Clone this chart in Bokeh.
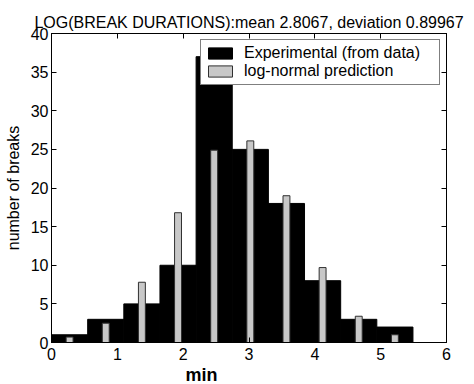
from bokeh.plotting import figure
from bokeh.models import LinearAxis, FixedTicker, Range1d, Title
from bokeh.embed import file_html
from bokeh.resources import INLINE

# ---- data ----
bin_centers = [0.275, 0.824, 1.373, 1.922, 2.471, 3.020, 3.569, 4.118, 4.667, 5.216]
bin_width = 0.549
experimental = [1, 3, 5, 10, 37, 25, 18, 8, 3, 2]
lognormal = [0.7, 2.5, 7.8, 16.8, 24.9, 26.1, 19.0, 9.7, 3.4, 1.0]
x_ticks = [0, 1, 2, 3, 4, 5, 6]
y_ticks = [0, 5, 10, 15, 20, 25, 30, 35, 40]
title_text = "LOG(BREAK DURATIONS):mean 2.8067, deviation 0.89967"

FONT = "Liberation Sans"

p = figure(width=474, height=384, output_backend="svg", toolbar_location=None,
           x_range=Range1d(0, 6), y_range=Range1d(0, 40),
           min_border_left=51, min_border_right=28, min_border_top=33, min_border_bottom=42,
           background_fill_color="white", border_fill_color="white")

p.title.text = title_text
p.title.text_font = FONT
p.title.text_font_size = "16px"
p.title.text_font_style = "normal"
p.title.text_color = "black"
p.title.align = "center"
p.title.standoff = 6

p.xgrid.visible = False
p.ygrid.visible = False
p.outline_line_color = "black"
p.outline_line_width = 1

p.vbar(x=bin_centers, top=experimental, width=bin_width, bottom=0,
       fill_color="black", line_color="black", legend_label="Experimental (from data)")
p.vbar(x=bin_centers, top=lognormal, width=0.105, bottom=0,
       fill_color="#c8c8c8", line_color="#303030", line_width=1,
       legend_label="log-normal prediction")

for ax in (p.xaxis[0], p.yaxis[0]):
    ax.major_tick_in = 5
    ax.major_tick_out = 0
    ax.minor_tick_in = 0
    ax.minor_tick_out = 0
    ax.major_label_text_font = FONT
    ax.major_label_text_font_size = "16px"
    ax.major_label_text_color = "black"
    ax.axis_line_color = "black"
    ax.major_tick_line_color = "black"

p.xaxis.ticker = FixedTicker(ticks=x_ticks)
p.yaxis.ticker = FixedTicker(ticks=y_ticks)
p.xaxis.major_label_standoff = 5
p.yaxis.major_label_standoff = 3

p.yaxis.axis_label = "number of breaks"
p.yaxis.axis_label_text_font = FONT
p.yaxis.axis_label_text_font_size = "16px"
p.yaxis.axis_label_text_font_style = "normal"
p.yaxis.axis_label_text_color = "black"
p.yaxis.axis_label_standoff = 6

# box ticks on top and right (no labels)
def box_axis(ticks):
    return LinearAxis(ticker=FixedTicker(ticks=ticks), major_tick_in=5, major_tick_out=0,
                      minor_tick_in=0, minor_tick_out=0,
                      major_label_overrides={t: "" for t in ticks},
                      major_label_text_font_size="1px",
                      major_label_standoff=0, axis_line_color="black")

p.add_layout(box_axis(x_ticks), "above")
p.add_layout(box_axis(y_ticks), "right")

xlabel = Title(text="min", align="left", offset=134, text_font=FONT,
               text_font_size="18px", text_font_style="bold", text_color="black",
               standoff=0)
p.add_layout(xlabel, "below")

lg = p.legend[0]
lg.location = "top_right"
lg.margin = 6
lg.padding = 4
lg.spacing = -2
lg.glyph_width = 30
lg.glyph_height = 14
lg.label_height = 14
lg.label_width = 191
lg.label_standoff = 9
lg.label_text_font = FONT
lg.label_text_font_size = "16px"
lg.label_text_color = "black"
lg.border_line_color = "black"
lg.border_line_width = 1
lg.background_fill_color = "white"
lg.background_fill_alpha = 1

open("out.html", "w").write(file_html(p, INLINE))
